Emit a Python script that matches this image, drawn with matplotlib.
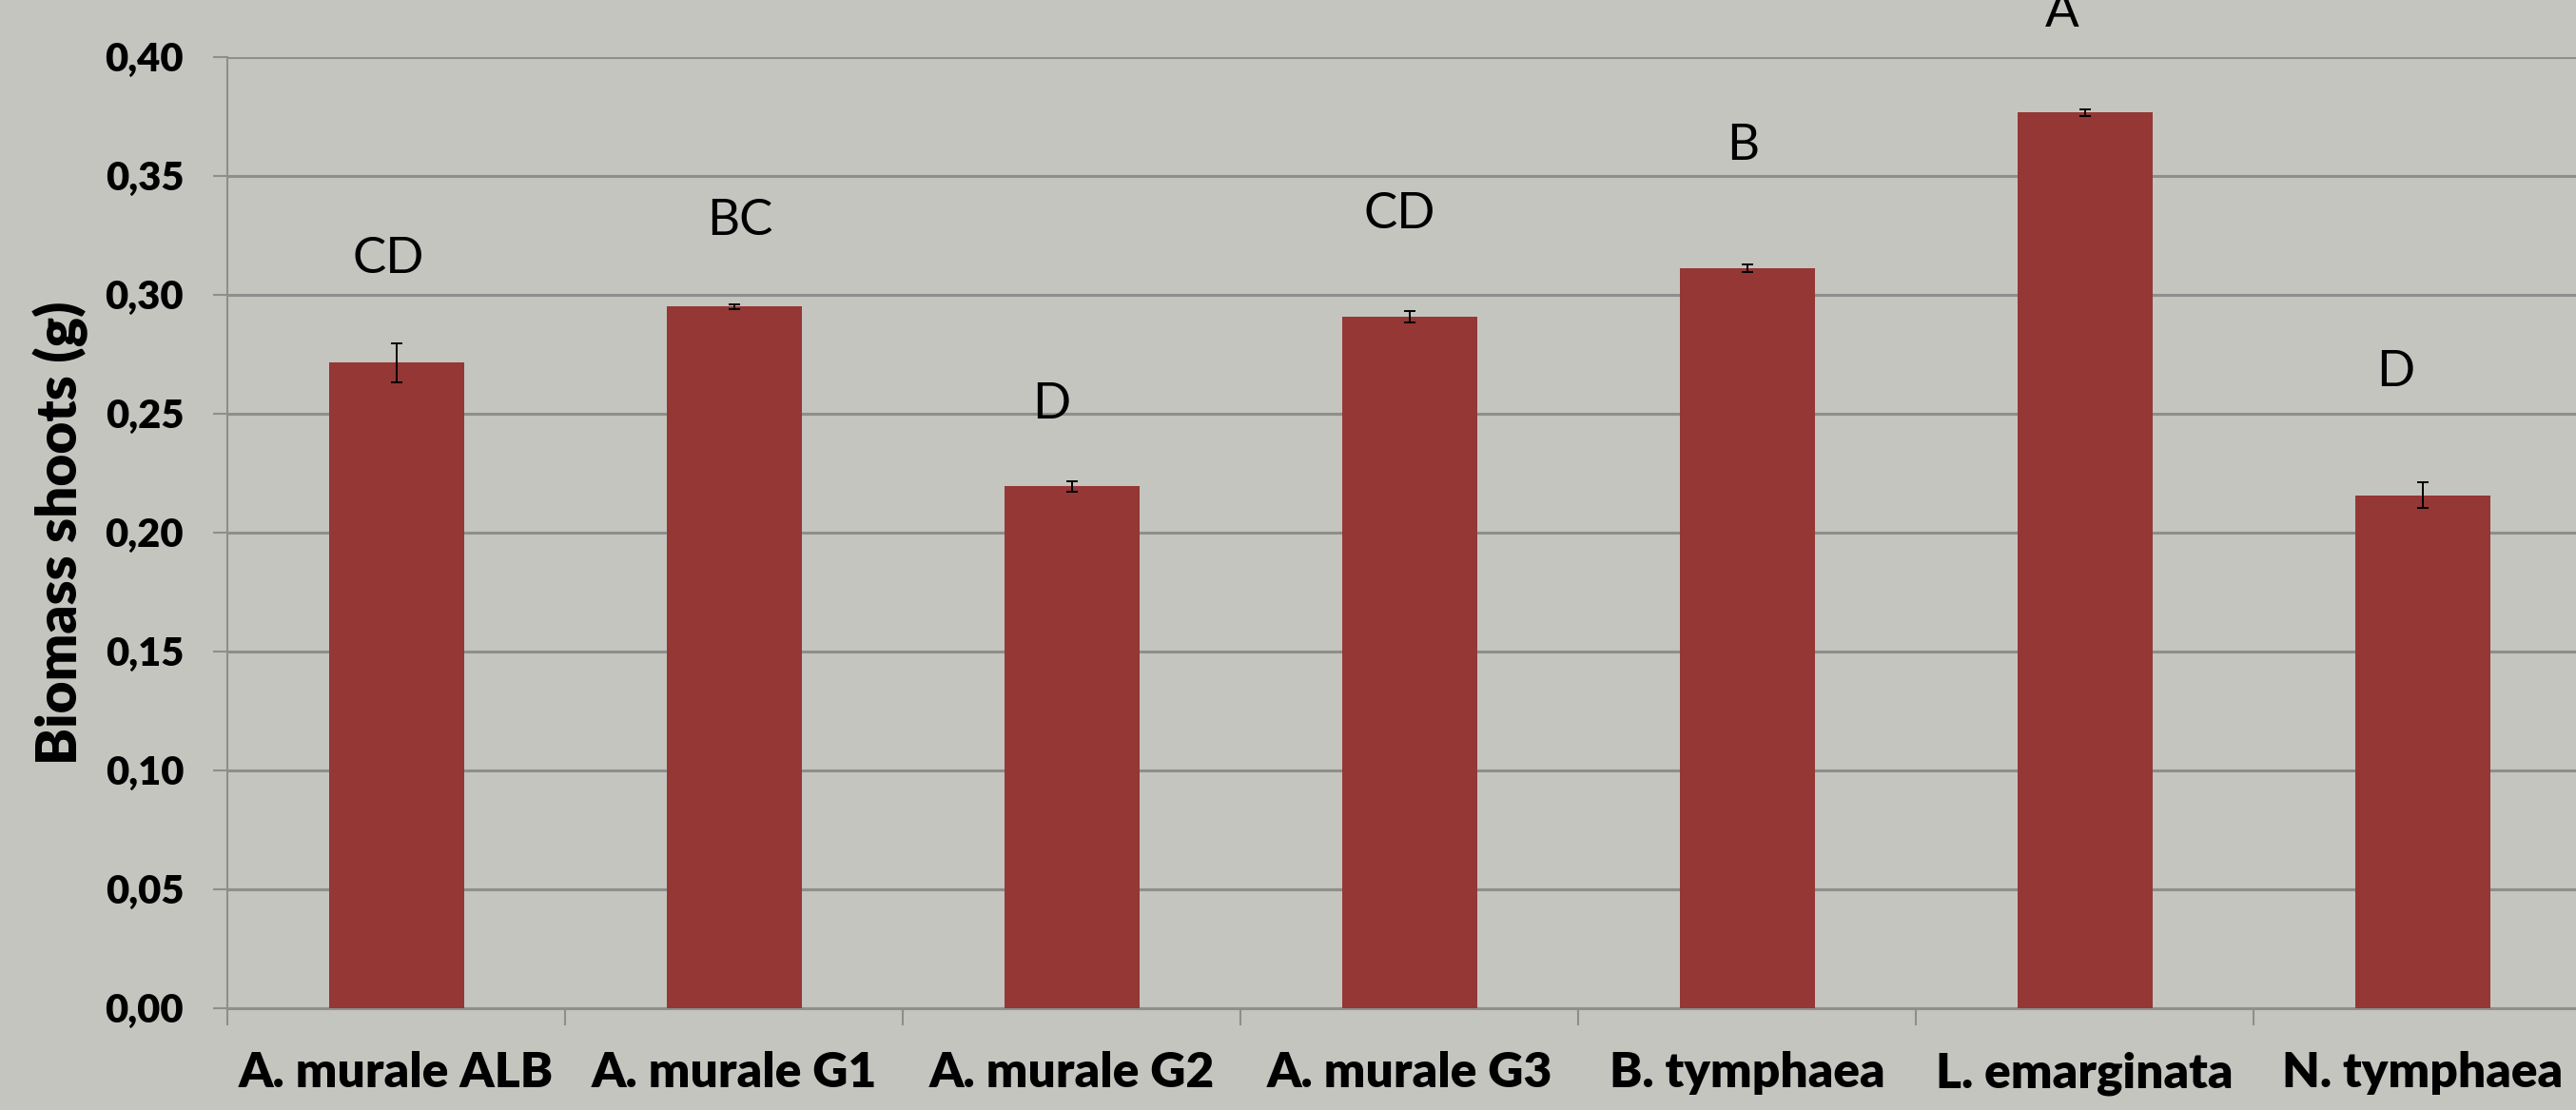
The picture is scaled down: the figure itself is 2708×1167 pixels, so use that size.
import matplotlib
matplotlib.use("Agg")
import matplotlib.pyplot as plt
from matplotlib.ticker import FixedLocator, FuncFormatter

# data
species = ["A. murale ALB", "A. murale G1", "A. murale G2", "A. murale G3",
           "B. tymphaea", "L. emarginata", "N. tymphaea"]
biomass = [0.2713, 0.2950, 0.2193, 0.2907, 0.3110, 0.3765, 0.2156]
biomass_err = [0.0082, 0.0010, 0.0022, 0.0025, 0.0015, 0.0015, 0.0055]
groups = ["CD", "BC", "D", "CD", "B", "A", "D"]
y_ticks = [0.00, 0.05, 0.10, 0.15, 0.20, 0.25, 0.30, 0.35, 0.40]

# where the letters sit (baseline in data units, x shift in category units)
letter_base = [0.309, 0.325, 0.248, 0.3276, 0.3564, 0.4124, 0.2616]
letter_dx = [-0.023, 0.017, -0.06, -0.028, -0.011, -0.068, -0.079]

bg = "#c4c5bf"
bar_color = "#953735"
grid_color = "#8e8f8c"

plt.rcParams['font.family'] = ['Lato', 'DejaVu Sans']

fig = plt.figure(figsize=(27.08, 11.67), dpi=100, facecolor=bg)
ax = fig.add_axes([239 / 2708, 1 - 1059.5 / 1167, 2485 / 2708, 1000 / 1167])
ax.set_facecolor("none")

x = range(len(species))
ax.bar(x, biomass, width=0.4, color=bar_color, zorder=3)
ax.errorbar(x, biomass, yerr=biomass_err, fmt="none", ecolor="black",
            elinewidth=1.4, capsize=4.5, capthick=1.4, zorder=4)

# the top letter is cut by the image edge, as in the original
for i, g in enumerate(groups):
    ax.text(i + letter_dx[i], letter_base[i], g, ha="center", va="baseline",
            fontsize=38, color="black", zorder=5, clip_on=False)

ax.set_xlim(-0.5, len(species) - 0.5)
ax.set_ylim(0, 0.40)

ax.yaxis.set_major_locator(FixedLocator(y_ticks))
ax.yaxis.set_major_formatter(FuncFormatter(lambda v, p: f"{v:.2f}".replace(".", ",")))
ax.grid(axis="y", color=grid_color, linewidth=2.2, zorder=0)
ax.set_axisbelow(True)

ax.set_xticks(list(x))
ax.set_xticklabels(species, fontsize=37, fontweight="heavy")
ax.set_xticks([i + 0.5 for i in range(-1, len(species))], minor=True)
ax.tick_params(axis="x", which="major", length=0, pad=33)
ax.tick_params(axis="x", which="minor", length=13, width=1.5, color=grid_color)
ax.tick_params(axis="y", length=11, width=1.5, color=grid_color, pad=22,
               labelsize=30)
for lab in ax.get_yticklabels():
    lab.set_fontweight("heavy")

for side in ["top", "right"]:
    ax.spines[side].set_visible(False)
ax.spines["left"].set_color(grid_color)
ax.spines["left"].set_linewidth(1.5)
ax.spines["bottom"].set_color(grid_color)
ax.spines["bottom"].set_linewidth(2.2)

fig.text(64 / 2708, 1 - 560 / 1167, "Biomass shoots (g)", rotation=90,
         ha="center", va="center", fontsize=42, fontweight="heavy")

fig.savefig("out.png", dpi=100, facecolor=bg)
